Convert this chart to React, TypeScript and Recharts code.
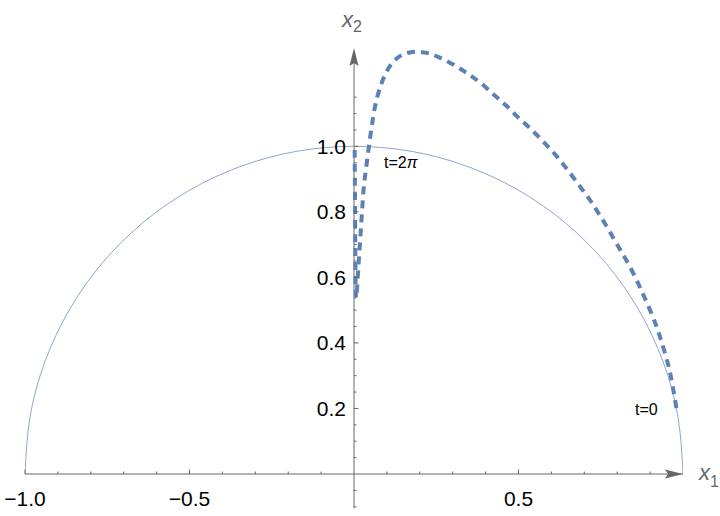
import React from "react";
import { LineChart, Line, XAxis, YAxis, ReferenceDot, ReferenceLine } from "recharts";

const AXIS = "#666666";
const CURVE = "#5e81b5";
const CIRCLE = "#8ea6d0";
const FONT = "'Liberation Sans', Arial, sans-serif";

// unit semicircle, every 10 degrees
const circle = [
  { x: 1.0, y: 0.0 },
  { x: 0.9848, y: 0.1736 },
  { x: 0.9397, y: 0.342 },
  { x: 0.866, y: 0.5 },
  { x: 0.766, y: 0.6428 },
  { x: 0.6428, y: 0.766 },
  { x: 0.5, y: 0.866 },
  { x: 0.342, y: 0.9397 },
  { x: 0.1736, y: 0.9848 },
  { x: 0.0, y: 1.0 },
  { x: -0.1736, y: 0.9848 },
  { x: -0.342, y: 0.9397 },
  { x: -0.5, y: 0.866 },
  { x: -0.6428, y: 0.766 },
  { x: -0.766, y: 0.6428 },
  { x: -0.866, y: 0.5 },
  { x: -0.9397, y: 0.342 },
  { x: -0.9848, y: 0.1736 },
  { x: -1.0, y: 0.0 },
];

// trajectory from t=0 to t=2π
const trajectory = [
  { x: 0.98, y: 0.201 },
  { x: 0.969, y: 0.266 },
  { x: 0.959, y: 0.317 },
  { x: 0.947, y: 0.363 },
  { x: 0.933, y: 0.409 },
  { x: 0.92, y: 0.449 },
  { x: 0.902, y: 0.495 },
  { x: 0.882, y: 0.541 },
  { x: 0.863, y: 0.583 },
  { x: 0.841, y: 0.628 },
  { x: 0.817, y: 0.671 },
  { x: 0.794, y: 0.71 },
  { x: 0.769, y: 0.754 },
  { x: 0.743, y: 0.796 },
  { x: 0.718, y: 0.835 },
  { x: 0.691, y: 0.872 },
  { x: 0.662, y: 0.911 },
  { x: 0.632, y: 0.95 },
  { x: 0.601, y: 0.987 },
  { x: 0.567, y: 1.023 },
  { x: 0.533, y: 1.057 },
  { x: 0.498, y: 1.089 },
  { x: 0.464, y: 1.123 },
  { x: 0.428, y: 1.155 },
  { x: 0.389, y: 1.19 },
  { x: 0.347, y: 1.221 },
  { x: 0.306, y: 1.247 },
  { x: 0.262, y: 1.27 },
  { x: 0.221, y: 1.285 },
  { x: 0.178, y: 1.288 },
  { x: 0.135, y: 1.272 },
  { x: 0.103, y: 1.235 },
  { x: 0.083, y: 1.19 },
  { x: 0.068, y: 1.14 },
  { x: 0.058, y: 1.087 },
  { x: 0.049, y: 1.026 },
  { x: 0.04, y: 0.958 },
  { x: 0.033, y: 0.904 },
  { x: 0.028, y: 0.855 },
  { x: 0.024, y: 0.794 },
  { x: 0.02, y: 0.733 },
  { x: 0.016, y: 0.672 },
  { x: 0.012, y: 0.611 },
  { x: 0.009, y: 0.56 },
  { x: 0.007, y: 0.537 },
  { x: 0.005, y: 0.57 },
  { x: 0.004, y: 0.68 },
  { x: 0.003, y: 0.834 },
  { x: 0.002, y: 0.99 },
];

const xTicks = [-1.0, -0.9, -0.8, -0.7, -0.6, -0.5, -0.4, -0.3, -0.2, -0.1, 0.1, 0.2, 0.3, 0.4, 0.5, 0.6, 0.7, 0.8, 0.9];
const xMajor = [-1.0, -0.5, 0.5];
const xLabels = ["−1.0", "−0.5", "0.5"];

const yTicks = [
  -0.1, -0.05, 0.05, 0.1, 0.15, 0.2, 0.25, 0.3, 0.35, 0.4, 0.45, 0.5, 0.55, 0.6, 0.65, 0.7, 0.75, 0.8, 0.85, 0.9,
  0.95, 1.0, 1.05, 1.1, 1.15,
];
const yMajor = [0.2, 0.4, 0.6, 0.8, 1.0];
const yLabels = ["0.2", "0.4", "0.6", "0.8", "1.0"];

const notes = [
  { x: 0.091, y: 0.933, label: "t=2π" },
  { x: 0.854, y: 0.18, label: "t=0" },
];

const xTickShape = (major: boolean, label?: string) => (p: any) => (
  <g>
    <line x1={p.cx} y1={p.cy} x2={p.cx} y2={p.cy - (major ? 4.5 : 2.5)} stroke={AXIS} strokeWidth={1} />
    {label && (
      <text x={p.cx} y={p.cy + 32} textAnchor="middle" fontSize={21} fontFamily={FONT} fill="#000">
        {label}
      </text>
    )}
  </g>
);

const yTickShape = (major: boolean, label?: string) => (p: any) => (
  <g>
    <line x1={p.cx} y1={p.cy} x2={p.cx + (major ? 4.5 : 2.5)} y2={p.cy} stroke={AXIS} strokeWidth={1} />
    {label && (
      <text x={p.cx - 8} y={p.cy + 7.5} textAnchor="end" fontSize={21} fontFamily={FONT} fill="#000">
        {label}
      </text>
    )}
  </g>
);

const noteShape = (label: string) => (p: any) => {
  const [head, tail] = label.endsWith("π") ? [label.slice(0, -1), "π"] : [label, ""];
  return (
    <text x={p.cx} y={p.cy} fontSize={16} fontFamily={FONT} fill="#000">
      {head}
      {tail && <tspan fontStyle="italic">{tail}</tspan>}
    </text>
  );
};

const yArrow = (p: any) => (
  <g>
    <path d={`M${p.cx},${p.cy} L${p.cx - 4.5},${p.cy + 18} L${p.cx},${p.cy + 15} L${p.cx + 4.5},${p.cy + 18} Z`} fill={AXIS} />
    <text x={p.cx - 12} y={p.cy - 21} fontFamily={FONT} fill={AXIS}>
      <tspan fontSize={22} fontStyle="italic">x</tspan>
      <tspan fontSize={16} dy={5}>2</tspan>
    </text>
  </g>
);

const xArrow = (p: any) => (
  <g>
    <path d={`M${p.cx},${p.cy} L${p.cx - 18},${p.cy - 4.5} L${p.cx - 15},${p.cy} L${p.cx - 18},${p.cy + 4.5} Z`} fill={AXIS} />
    <text x={p.cx + 16} y={p.cy + 6} fontFamily={FONT} fill={AXIS}>
      <tspan fontSize={22} fontStyle="italic">x</tspan>
      <tspan fontSize={16} dy={7}>1</tspan>
    </text>
  </g>
);

export default function App() {
  return (
    <div style={{ position: "absolute", left: 0, top: 0, width: 720, height: 516, background: "#fff" }}>
      <LineChart width={720} height={516} margin={{ top: 48, right: 37, bottom: 12, left: 25 }}>
        <XAxis
          type="number"
          dataKey="x"
          domain={[-1, 1]}
          allowDataOverflow
          tick={false}
          tickLine={false}
          height={30}
          axisLine={{ stroke: AXIS, strokeWidth: 1 }}
        />
        <YAxis type="number" dataKey="y" domain={[0, 1.3]} allowDataOverflow hide />
        <ReferenceLine
          segment={[
            { x: 0, y: -0.105 },
            { x: 0, y: 1.26 },
          ]}
          stroke={AXIS}
          strokeWidth={1}
          ifOverflow="visible"
        />
        <Line
          data={circle}
          dataKey="y"
          type="natural"
          stroke={CIRCLE}
          strokeWidth={1}
          dot={false}
          activeDot={false}
          isAnimationActive={false}
        />
        <Line
          data={trajectory}
          dataKey="y"
          type="natural"
          stroke={CURVE}
          strokeWidth={4}
          strokeDasharray="8 6"
          dot={false}
          activeDot={false}
          isAnimationActive={false}
        />
        {xTicks.map((v) => {
          const i = xMajor.indexOf(v);
          return (
            <ReferenceDot key={`xt${v}`} x={v} y={0} ifOverflow="visible" shape={xTickShape(i >= 0, xLabels[i])} />
          );
        })}
        {yTicks.map((v) => {
          const i = yMajor.indexOf(v);
          return (
            <ReferenceDot key={`yt${v}`} x={0} y={v} ifOverflow="visible" shape={yTickShape(i >= 0, yLabels[i])} />
          );
        })}
        {notes.map((n) => (
          <ReferenceDot key={n.label} x={n.x} y={n.y} ifOverflow="visible" shape={noteShape(n.label)} />
        ))}
        <ReferenceDot x={0} y={1.3} ifOverflow="visible" shape={yArrow} />
        <ReferenceDot x={1} y={0} ifOverflow="visible" shape={xArrow} />
      </LineChart>
    </div>
  );
}
